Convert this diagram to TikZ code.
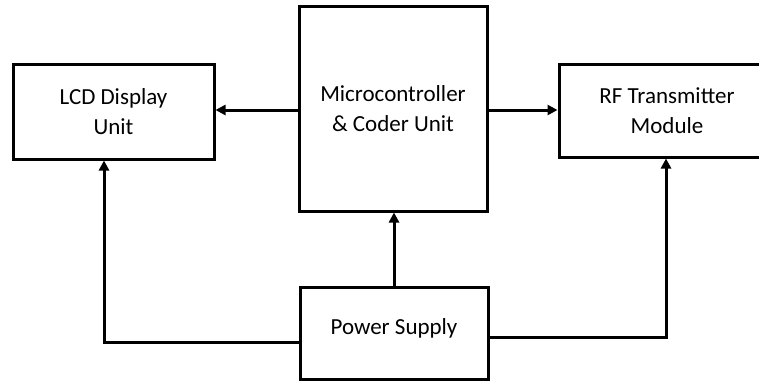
\documentclass[tikz,border=0pt]{standalone}
\usepackage{fontspec}
\setmainfont{Carlito}
\usepackage{tikz}
\usetikzlibrary{arrows.meta,positioning,calc}

\begin{document}
\begin{tikzpicture}[x=1pt,y=-1pt,
  block/.style={draw,line width=3pt,rectangle,align=center,inner sep=0pt,font=\fontsize{23}{30}\selectfont},
  feed/.style={line width=3pt,-{Triangle[length=10pt,width=10pt]}}]
\useasboundingbox (0,0) rectangle (759,381);
\fill[white] (0,0) rectangle (759,381);
\node[block,minimum width=201pt,minimum height=95pt] (lcd) at (113.5,111.5) {LCD Display\\Unit};
\node[block,minimum width=188pt,minimum height=205pt] (mcu) at (393,108.5) {Microcontroller\\\& Coder Unit};
\node[block,minimum width=216pt,minimum height=93pt] (rf) at (667,110.5) {RF Transmitter\\Module};
\node[block,minimum width=188pt,minimum height=92pt,text depth=12pt] (pwr) at (394,333) {Power Supply};
% connections
\draw[feed] ([yshift=-1.5pt]mcu.west) -- ([yshift=-1.5pt]mcu.west -| lcd.east);
\draw[feed] ([yshift=-1.5pt]mcu.east) -- ([yshift=-1.5pt]mcu.east -| rf.west);
\draw[feed] (pwr.north) -- (pwr.north |- mcu.south);
\draw[feed] ([yshift=-9pt]pwr.west) -| ([xshift=-9.5pt]lcd.south);
\draw[feed] ([yshift=-4pt]pwr.east) -| ([xshift=-1pt]rf.south);
\end{tikzpicture}
\end{document}
